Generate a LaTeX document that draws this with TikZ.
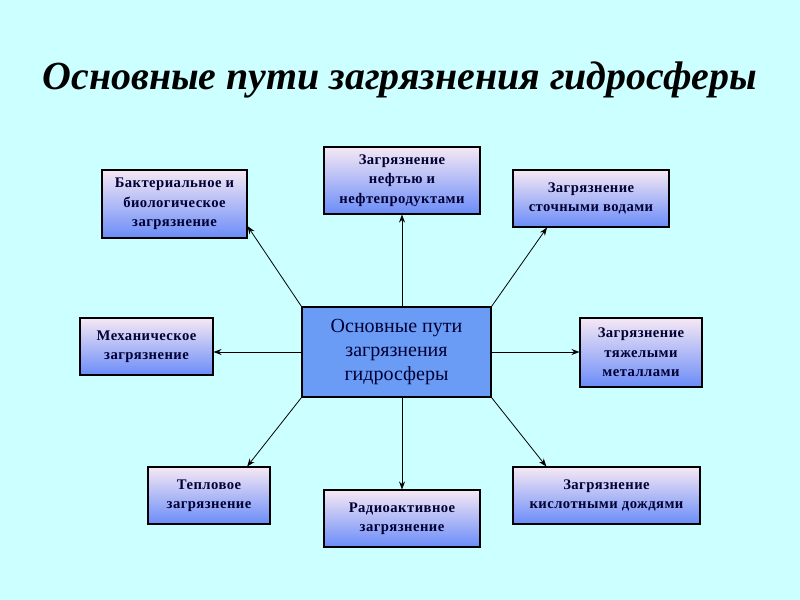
\documentclass[tikz,border=0pt]{standalone}
\usepackage{fontspec}
\setmainfont{Liberation Serif}
\newfontfamily\boxfont[LetterSpace=3]{Liberation Serif}
\usetikzlibrary{arrows.meta,calc}
\definecolor{bg}{HTML}{CCFFFF}
\definecolor{boxtop}{HTML}{F6E8F4}
\definecolor{boxbot}{HTML}{6A8CF8}
\definecolor{centerfill}{HTML}{6A9CF6}
\definecolor{ink}{HTML}{000033}
\tikzset{
  every picture/.style={x=0.75pt,y=-0.75pt},
  pbox/.style={draw=black, line width=0.8pt, top color=boxtop, bottom color=boxbot,
    align=center, text=ink, inner sep=1pt,
    font=\boxfont\bfseries\fontsize{11pt}{14.6pt}\selectfont},
  cbox/.style={draw=black, line width=0.8pt, fill=centerfill, align=center, text=ink,
    font=\fontsize{15pt}{18pt}\selectfont},
  conn/.style={draw=black, line width=0.6pt, -{Stealth[length=6pt,width=4.5pt]}},
}
\begin{document}
\begin{tikzpicture}
\fill[bg] (0,0) rectangle (800,600);
\useasboundingbox (0,0) rectangle (800,600);

\node[text=black, font=\fontsize{30pt}{34pt}\selectfont\bfseries\itshape] (title) at (400,80)
  {\resizebox{536pt}{!}{Основные пути загрязнения гидросферы}};

\node[cbox, minimum width={189*0.75pt}, minimum height={90*0.75pt}] (c) at (396.5,352)
  {Основные пути\\загрязнения\\гидросферы};

\node[pbox, minimum width={156*0.75pt}, minimum height={67*0.75pt}] (t) at (402,180.5)
  {Загрязнение\\нефтью и\\нефтепродуктами};
\node[pbox, minimum width={145*0.75pt}, minimum height={68*0.75pt}] (tl) at (174.5,204)
  {Бактериальное и\\биологическое\\загрязнение};
\node[pbox, minimum width={156*0.75pt}, minimum height={57*0.75pt}] (tr) at (591,198.5)
  {Загрязнение\\сточными водами};
\node[pbox, minimum width={133*0.75pt}, minimum height={57*0.75pt}] (l) at (146.5,346.5)
  {Механическое\\загрязнение};
\node[pbox, minimum width={122*0.75pt}, minimum height={69*0.75pt}] (r) at (641,352.5)
  {Загрязнение\\тяжелыми\\металлами};
\node[pbox, minimum width={122*0.75pt}, minimum height={57*0.75pt}] (bl) at (209,495.5)
  {Тепловое\\загрязнение};
\node[pbox, minimum width={156*0.75pt}, minimum height={57*0.75pt}] (b) at (402,518.5)
  {Радиоактивное\\загрязнение};
\node[pbox, minimum width={187*0.75pt}, minimum height={57*0.75pt}] (br) at (606.5,495.5)
  {Загрязнение\\кислотными дождями};

\draw[conn] (c.north -| t.south) -- (t.south);
\draw[conn] (c.north west) -- ($(tl.north east)!0.82!(tl.south east)$);
\draw[conn] (c.north east) -- ($(tr.south west)!0.22!(tr.south east)$);
\draw[conn] (c.west) -- (c.west -| l.east);
\draw[conn] (c.east) -- (c.east -| r.west);
\draw[conn] (c.south west) -- ($(bl.north west)!0.81!(bl.north east)$);
\draw[conn] (c.south -| b.north) -- (b.north);
\draw[conn] (c.south east) -- ($(br.north west)!0.18!(br.north east)$);
\end{tikzpicture}
\end{document}
